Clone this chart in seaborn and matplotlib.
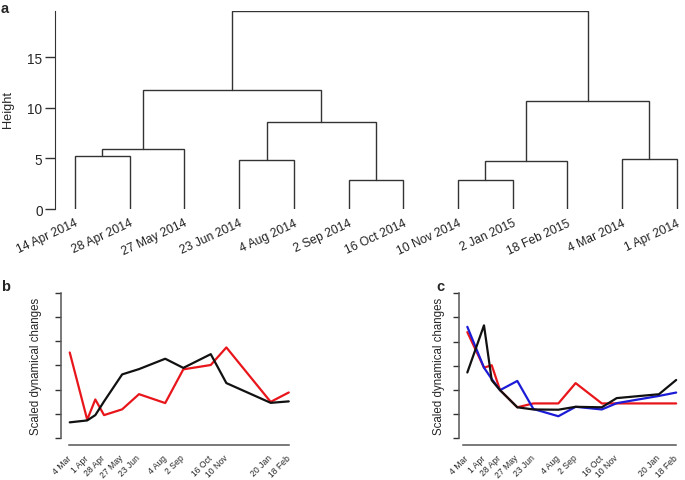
import numpy as np
import pandas as pd
import seaborn as sns
import matplotlib
matplotlib.use("Agg")
import matplotlib.pyplot as plt
import matplotlib.dates as mdates

# --- data -------------------------------------------------------------
leaf_labels = ["14 Apr 2014", "28 Apr 2014", "27 May 2014", "23 Jun 2014",
               "4 Aug 2014", "2 Sep 2014", "16 Oct 2014", "10 Nov 2014",
               "2 Jan 2015", "18 Feb 2015", "4 Mar 2014", "1 Apr 2014"]
# linkage rows: ids 0-11 are leaves, 12+ are earlier merges
merge_left = [0, 12, 3, 5, 14, 13, 7, 18, 10, 19, 17]
merge_right = [1, 2, 4, 6, 15, 16, 8, 9, 11, 20, 21]
merge_height = [5.2, 5.92, 4.87, 2.86, 8.56, 11.78, 2.86, 4.74, 4.97, 10.66, 19.55]

dates = pd.to_datetime(["2014-03-04", "2014-04-01", "2014-04-14", "2014-04-28",
                        "2014-05-27", "2014-06-23", "2014-08-04", "2014-09-02",
                        "2014-10-16", "2014-11-10", "2015-01-20", "2015-02-18"])
tick_dates = dates.delete(2)
tick_labels = ["4 Mar", "1 Apr", "28 Apr", "27 May", "23 Jun", "4 Aug",
               "2 Sep", "16 Oct", "10 Nov", "20 Jan", "18 Feb"]

b_red = [3.54, 0.75, 1.59, 0.94, 1.18, 1.81, 1.44, 2.84, 3.02, 3.75, 1.49, 1.88]
b_black = [0.64, 0.72, 0.94, 1.51, 2.63, 2.85, 3.28, 2.90, 3.47, 2.27, 1.45, 1.51]

c_red = [4.39, 2.92, 3.02, 1.99, 1.28, 1.44, 1.44, 2.28, 1.44, 1.44, 1.44, 1.44]
c_blue = [4.61, 2.92, 2.45, 1.99, 2.37, 1.21, 0.91, 1.30, 1.19, 1.45, 1.75, 1.89]
c_black = [2.72, 4.67, 2.40, 1.99, 1.28, 1.19, 1.18, 1.30, 1.28, 1.66, 1.82, 2.41]

# --- style ------------------------------------------------------------
sns.set_style("ticks")
plt.rcParams["font.family"] = ["Liberation Sans", "DejaVu Sans"]
ink = "#333333"
palette = {"red": "#e8161b", "blue": "#1c1cd6", "black": "#111111"}

W, H = 685, 481
fig = plt.figure(figsize=(W / 100, H / 100), dpi=100)


def px_axes(left, top, right, bottom):
    return fig.add_axes([left / W, 1 - bottom / H, (right - left) / W, (bottom - top) / H])


# --- panel a: dendrogram ---------------------------------------------
ax_a = px_axes(55, 11.5, 685, 210)
n = len(leaf_labels)
node_x = list(np.arange(1, n + 1, dtype=float))
node_h = [0.0] * n
for l, r, h in zip(merge_left, merge_right, merge_height):
    ax_a.plot([node_x[l], node_x[l], node_x[r], node_x[r]],
              [node_h[l], h, h, node_h[r]], color=ink, lw=1.0, solid_joinstyle="miter")
    node_x.append((node_x[l] + node_x[r]) / 2)
    node_h.append(h)

ax_a.set_xlim(0.633, 12.15)
ax_a.set_ylim(0, 19.6)
sns.despine(ax=ax_a, bottom=True)
ax_a.spines["left"].set_bounds(0, 19.6)
ax_a.spines["left"].set_color(ink)
ax_a.set_xticks([])
ax_a.set_yticks([0, 5, 10, 15])
ax_a.tick_params(axis="y", length=7, width=1, color=ink, labelsize=9.8, pad=2)
for i, lab in enumerate(leaf_labels):
    ax_a.text(i + 1.04, -1.3, lab, rotation=25, ha="right", va="center",
              rotation_mode="anchor", fontsize=8.7, color="#222222")
fig.text(8 / W, 1 - 110 / H, "Height", rotation=90, ha="center", va="center", fontsize=9.2)
fig.text(5 / W, 1 - 9 / H, "a", fontsize=10.5, fontweight="bold", ha="center", va="center")


# --- panels b and c: line plots --------------------------------------
def line_panel(ax, series, ylow, xstart):
    df = pd.DataFrame({
        "date": list(dates) * len(series),
        "value": sum(series.values(), []),
        "series": sum([[k] * len(dates) for k in series], []),
    })
    sns.lineplot(data=df, x="date", y="value", hue="series", palette=palette,
                 legend=False, lw=1.6, ax=ax)
    ax.set_xlim(pd.Timestamp("2014-02-18"), pd.Timestamp("2015-02-27"))
    ax.set_ylim(ylow, 6.05)
    sns.despine(ax=ax)
    ax.spines["left"].set_bounds(0, 6)
    ax.spines["bottom"].set_bounds(mdates.date2num(pd.Timestamp(xstart)),
                                   mdates.date2num(dates[-1]))
    for s in ("left", "bottom"):
        ax.spines[s].set_color("#555555")
        ax.spines[s].set_linewidth(1.1)
    ax.set_yticks(range(7))
    ax.set_yticklabels([])
    ax.tick_params(axis="y", length=4, width=1, color=ink)
    ax.set_xticks(tick_dates)
    ax.set_xticklabels(tick_labels)
    ax.tick_params(axis="x", length=0, pad=8, labelsize=6.2)
    for t in ax.get_xticklabels():
        t.set_rotation(45)
        t.set_ha("right")
        t.set_va("center")
        t.set_rotation_mode("anchor")
    ax.set_xlabel("")
    ax.set_ylabel("")


ax_b = px_axes(61, 293, 61 + 374 * 0.624, 446)
line_panel(ax_b, {"red": b_red, "black": b_black}, -0.30, "2014-03-03")
fig.text(36 / W, 1 - 366 / H, "Scaled dynamical changes", rotation=90,
         ha="center", va="center", fontsize=8.3)
fig.text(6 / W, 1 - 287 / H, "b", fontsize=10.5, fontweight="bold", ha="center", va="center")

ax_c = px_axes(459, 293, 459 + 374 * 0.595, 446)
line_panel(ax_c, {"red": c_red, "blue": c_blue, "black": c_black}, -0.28, "2014-02-25")
fig.text(439 / W, 1 - 366 / H, "Scaled dynamical changes", rotation=90,
         ha="center", va="center", fontsize=8.3)
fig.text(440 / W, 1 - 287 / H, "c", fontsize=10.5, fontweight="bold", ha="center", va="center")

fig.savefig("out.png", dpi=100)
